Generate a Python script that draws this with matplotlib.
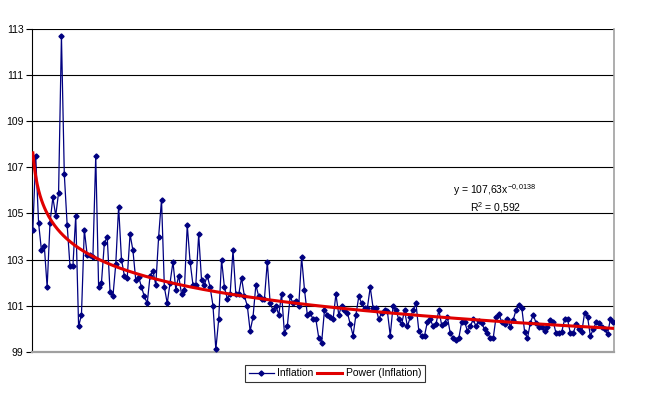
import numpy as np
import matplotlib
matplotlib.use('Agg')
import matplotlib.pyplot as plt

plt.rcParams['font.family'] = ['Liberation Sans', 'DejaVu Sans']
plt.rcParams['mathtext.default'] = 'regular'
plt.rcParams['axes.unicode_minus'] = False

# Inflation values (one per period)
inflation = [
    104.3, 107.5, 104.6, 103.4, 103.6, 101.8, 104.6, 105.7, 104.9, 105.9,
    112.7, 106.7, 104.5, 102.7, 102.7, 104.9, 100.1, 100.6, 104.3, 103.2,
    103.2, 103.1, 107.5, 101.8, 102.0, 103.7, 104.0, 101.6, 101.4, 102.8,
    105.3, 103.0, 102.3, 102.2, 104.1, 103.4, 102.1, 102.25, 101.8, 101.4,
    101.1, 102.3, 102.5, 101.9, 104.0, 105.6, 101.8, 101.1, 102.0, 102.9,
    101.7, 102.3, 101.5, 101.7, 104.5, 102.9, 101.9, 101.9, 104.1, 102.1,
    101.9, 102.3, 101.8, 101.0, 99.1, 100.4, 103.0, 101.8, 101.3, 101.5,
    103.4, 101.5, 101.5, 102.2, 101.4, 101.0, 99.9, 100.5, 101.9, 101.4,
    101.3, 101.3, 102.9, 101.1, 100.8, 101.0, 100.6, 101.5, 99.8, 100.1,
    101.4, 101.1, 101.2, 101.0, 103.1, 101.7, 100.6, 100.7, 100.4, 100.4,
    99.6, 99.4, 100.8, 100.6, 100.5, 100.4, 101.5, 100.6, 101.0, 100.8,
    100.7, 100.2, 99.7, 100.6, 101.4, 101.1, 100.9, 100.9, 101.8, 100.9,
    100.9, 100.4, 100.7, 100.8, 100.75, 99.7, 101.0, 100.8, 100.4, 100.2,
    100.8, 100.1, 100.5, 100.8, 101.1, 99.9, 99.7, 99.7, 100.3, 100.4,
    100.1, 100.2, 100.8, 100.15, 100.26, 100.5, 99.8, 99.6, 99.5, 99.6,
    100.3, 100.3, 99.9, 100.1, 100.4, 100.1, 100.35, 100.23, 99.97, 99.83,
    99.58, 99.58, 100.49, 100.62, 100.3, 100.2, 100.41, 100.09, 100.38, 100.81,
    101.03, 100.91, 99.87, 99.58, 100.26, 100.59, 100.26, 100.09, 100.09, 99.9,
    100.09, 100.38, 100.3, 99.8, 99.8, 99.87, 100.41, 100.41, 99.8, 99.8,
    100.19, 99.97, 99.87, 100.7, 100.52, 99.68, 99.97, 100.28, 100.23, 100.09,
    99.97, 99.77, 100.41, 100.3,
]

# power trendline coefficients as printed on the chart
trend_a = 107.63
trend_b = -0.0138

y_ticks = [99, 101, 103, 105, 107, 109, 111, 113]

x = np.arange(1, len(inflation) + 1)
xs = np.linspace(1, len(inflation), 400)
trend = trend_a * xs ** trend_b

fig = plt.figure(figsize=(6.5, 3.99), dpi=100)
ax = fig.add_axes([0.049, 0.1185, 0.896, 0.8085])

ax.plot(x, inflation, color='#000080', lw=0.9, marker='D', ms=2.6,
        mec='#000080', mfc='#000080', label='Inflation', zorder=3)
ax.plot(xs, trend, color='#e00000', lw=2.2, label='Power (Inflation)', zorder=4)

ax.set_xlim(0.65, len(inflation) + 0.35)
ax.set_ylim(99, 113)
ax.set_yticks(y_ticks)
ax.set_yticklabels([str(t) for t in y_ticks], fontsize=7.5)
ax.set_xticks([])
ax.tick_params(axis='y', direction='out', length=4, width=0.8, pad=2)
ax.yaxis.grid(True, color='black', lw=0.8)
ax.set_axisbelow(True)

ax.spines['top'].set_visible(False)
ax.spines['left'].set_color('black')
ax.spines['left'].set_linewidth(0.8)
ax.spines['right'].set_color('#a0a0a0')
ax.spines['right'].set_linewidth(1.2)
ax.spines['bottom'].set_color('#a0a0a0')
ax.spines['bottom'].set_linewidth(1.6)

# trendline label, positioned by the data scale of the x axis
label_x = 1 + (497 - 33) / 2.87
ax.text(label_x, 106.0, 'y = 107,63x$^{-0,0138}$', fontsize=7.5,
        ha='center', va='center')
ax.text(label_x, 105.25, 'R$^{2}$ = 0,592', fontsize=7.5,
        ha='center', va='center')

leg = fig.legend(loc='center', bbox_to_anchor=(335 / 650, 1 - 373.5 / 399),
                 ncol=2, fontsize=7.5, frameon=True, fancybox=False,
                 edgecolor='black', handlelength=2.4, columnspacing=0.4,
                 handletextpad=0.3, borderpad=0.35)
leg.get_frame().set_linewidth(0.8)

fig.savefig('out.png', dpi=100, facecolor='white')
